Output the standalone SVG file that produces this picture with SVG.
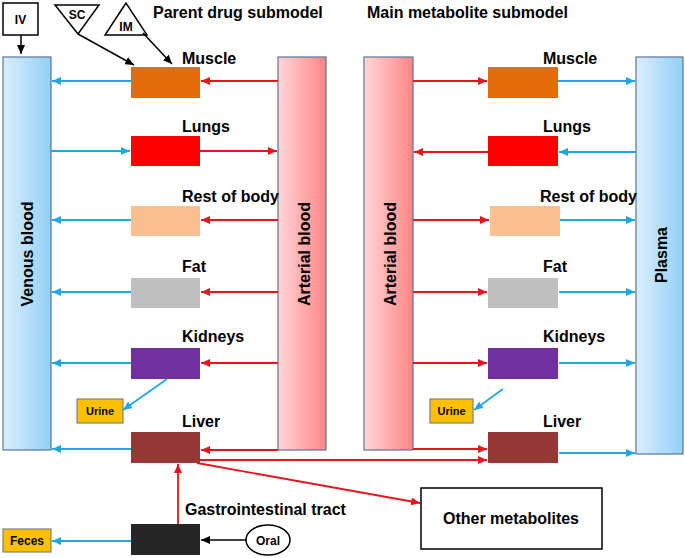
<svg xmlns="http://www.w3.org/2000/svg" width="685" height="558" viewBox="0 0 685 558">
<defs>
<linearGradient id="gBlue" x1="0" y1="0" x2="1" y2="0"><stop offset="0" stop-color="#dbeefc"/><stop offset="1" stop-color="#92d0f7"/></linearGradient>
<linearGradient id="gRed" x1="0" y1="0" x2="1" y2="0"><stop offset="0" stop-color="#ffd6d8"/><stop offset="1" stop-color="#ff8585"/></linearGradient>
<marker id="aR" markerUnits="userSpaceOnUse" markerWidth="10" markerHeight="8" refX="9" refY="4" orient="auto"><path d="M0,0 L9,4 L0,8 z" fill="#e8141c"/></marker>
<marker id="aB" markerUnits="userSpaceOnUse" markerWidth="10" markerHeight="8" refX="9" refY="4" orient="auto"><path d="M0,0 L9,4 L0,8 z" fill="#1ea7e4"/></marker>
<marker id="aK" markerUnits="userSpaceOnUse" markerWidth="10" markerHeight="8" refX="9" refY="4" orient="auto"><path d="M0,0 L9,4 L0,8 z" fill="#000"/></marker>
</defs>
<style>
text{font-family:"Liberation Sans",Arial,sans-serif;font-weight:bold;fill:#000}
.lbl{font-size:16px}
.sm{font-size:12px}
.bar{stroke:#5b7499;stroke-width:1.2}
.r{stroke:#e8141c;stroke-width:1.8;fill:none;marker-end:url(#aR)}
.b{stroke:#1ea7e4;stroke-width:1.8;fill:none;marker-end:url(#aB)}
.k{stroke:#000;stroke-width:1.5;fill:none;marker-end:url(#aK)}
.box{stroke:#000;stroke-width:1.5;fill:#fff}
.ylw{fill:#ffc000;stroke:#7f7f7f;stroke-width:1.2}
</style>
<rect width="685" height="558" fill="#fff"/>

<text class="lbl" x="153" y="18">Parent drug submodel</text>
<text class="lbl" x="367" y="18">Main metabolite submodel</text>

<g id="venous"><rect class="bar" x="3" y="57" width="48" height="393" fill="url(#gBlue)"/><text class="lbl" transform="translate(33,254) rotate(-90)" text-anchor="middle">Venous blood</text></g>
<g id="arterial1"><rect class="bar" x="278" y="57" width="48" height="393" fill="url(#gRed)"/><text class="lbl" transform="translate(310,254) rotate(-90)" text-anchor="middle">Arterial blood</text></g>
<g id="arterial2"><rect class="bar" x="364" y="57" width="49" height="393" fill="url(#gRed)"/><text class="lbl" transform="translate(396,254) rotate(-90)" text-anchor="middle">Arterial blood</text></g>
<g id="plasma"><rect class="bar" x="636" y="57" width="47" height="397" fill="url(#gBlue)"/><text class="lbl" transform="translate(667,255) rotate(-90)" text-anchor="middle">Plasma</text></g>

<g id="muscle1"><rect x="131" y="67" width="69" height="31" fill="#e36c0a"/><text class="lbl" x="182" y="64">Muscle</text></g>
<g id="lungs1"><rect x="131" y="136" width="69" height="30" fill="#ff0000"/><text class="lbl" x="182" y="132">Lungs</text></g>
<g id="rest1"><rect x="131" y="206" width="69" height="30" fill="#fac090"/><text class="lbl" x="182" y="202">Rest of body</text></g>
<g id="fat1"><rect x="131" y="278" width="69" height="30" fill="#bfbfbf"/><text class="lbl" x="182" y="272">Fat</text></g>
<g id="kidneys1"><rect x="131" y="348" width="69" height="31" fill="#7030a0"/><text class="lbl" x="182" y="342">Kidneys</text></g>
<g id="liver1"><rect x="131" y="432" width="69" height="31" fill="#953735"/><text class="lbl" x="182" y="427">Liver</text></g>
<g id="gi"><rect x="131" y="524" width="69" height="31" fill="#262626"/><text class="lbl" x="185" y="515">Gastrointestinal tract</text></g>

<g id="muscle2"><rect x="488" y="67" width="70" height="31" fill="#e36c0a"/><text class="lbl" x="543" y="64">Muscle</text></g>
<g id="lungs2"><rect x="488" y="136" width="70" height="30" fill="#ff0000"/><text class="lbl" x="543" y="132">Lungs</text></g>
<g id="rest2"><rect x="490" y="206" width="70" height="30" fill="#fac090"/><text class="lbl" x="540" y="202">Rest of body</text></g>
<g id="fat2"><rect x="488" y="278" width="70" height="30" fill="#bfbfbf"/><text class="lbl" x="543" y="272">Fat</text></g>
<g id="kidneys2"><rect x="488" y="348" width="70" height="31" fill="#7030a0"/><text class="lbl" x="543" y="342">Kidneys</text></g>
<g id="liver2"><rect x="488" y="432" width="70" height="31" fill="#953735"/><text class="lbl" x="543" y="427">Liver</text></g>

<g id="urine1"><rect class="ylw" x="77" y="399" width="46" height="24"/><text class="sm" x="100" y="415" text-anchor="middle" style="font-size:11px">Urine</text></g>
<g id="urine2"><rect class="ylw" x="430" y="399" width="43" height="24"/><text class="sm" x="451.5" y="415" text-anchor="middle" style="font-size:11px">Urine</text></g>
<g id="feces"><rect class="ylw" x="3" y="529" width="48" height="23"/><text class="sm" x="27" y="545" text-anchor="middle">Feces</text></g>
<g id="oral"><ellipse cx="268" cy="540" rx="22" ry="15" fill="#fff" stroke="#000" stroke-width="1.5"/><text class="sm" x="268" y="545" text-anchor="middle">Oral</text></g>
<g id="iv"><rect class="box" x="3" y="3" width="35" height="32"/><text class="sm" x="20.5" y="24" text-anchor="middle">IV</text></g>
<g id="sc"><polygon points="55,5 99,5 78,34" fill="#fff" stroke="#000" stroke-width="1.5"/><text class="sm" x="77" y="19" text-anchor="middle">SC</text></g>
<g id="im"><polygon points="126,3 105,35 147,35" fill="#fff" stroke="#000" stroke-width="1.5"/><text class="sm" x="126" y="31" text-anchor="middle">IM</text></g>
<g id="other"><rect class="box" x="421" y="488" width="181" height="61"/><text class="lbl" x="511" y="524" text-anchor="middle">Other metabolites</text></g>

<g id="connectors">
<line class="k" x1="21" y1="35" x2="21" y2="54"/>
<line class="k" x1="78" y1="34" x2="134" y2="65"/>
<line class="k" x1="143" y1="33" x2="172" y2="64"/>
<line class="k" x1="246" y1="540" x2="201" y2="540"/>

<line class="b" x1="131" y1="81" x2="52" y2="81"/>
<line class="r" x1="278" y1="81" x2="201" y2="81"/>
<line class="b" x1="51" y1="151" x2="130" y2="151"/>
<line class="r" x1="200" y1="151" x2="277" y2="151"/>
<line class="b" x1="131" y1="220" x2="52" y2="220"/>
<line class="r" x1="278" y1="220" x2="201" y2="220"/>
<line class="b" x1="131" y1="292" x2="52" y2="292"/>
<line class="r" x1="278" y1="292" x2="201" y2="292"/>
<line class="b" x1="131" y1="363" x2="52" y2="363"/>
<line class="r" x1="278" y1="363" x2="201" y2="363"/>
<line class="b" x1="131" y1="449" x2="52" y2="449"/>
<line class="r" x1="278" y1="450" x2="201" y2="450"/>
<line class="b" x1="167" y1="379" x2="123" y2="410"/>
<line class="b" x1="131" y1="541" x2="52" y2="541"/>
<line class="r" x1="178" y1="524" x2="178" y2="464"/>
<line class="r" x1="197" y1="463" x2="420" y2="503"/>
<line class="r" x1="200" y1="460" x2="487" y2="460"/>

<line class="r" x1="413" y1="81" x2="487" y2="81"/>
<line class="b" x1="558" y1="81" x2="635" y2="81"/>
<line class="r" x1="488" y1="152" x2="414" y2="152"/>
<line class="b" x1="636" y1="152" x2="559" y2="152"/>
<line class="r" x1="413" y1="220" x2="489" y2="220"/>
<line class="b" x1="560" y1="220" x2="635" y2="220"/>
<line class="r" x1="413" y1="292" x2="487" y2="292"/>
<line class="b" x1="559" y1="292" x2="635" y2="292"/>
<line class="r" x1="413" y1="363" x2="487" y2="363"/>
<line class="b" x1="559" y1="363" x2="635" y2="363"/>
<line class="r" x1="413" y1="449" x2="487" y2="449"/>
<line class="b" x1="559" y1="453" x2="635" y2="453"/>
<line class="b" x1="503" y1="389" x2="474" y2="410"/>
</g>
</svg>
